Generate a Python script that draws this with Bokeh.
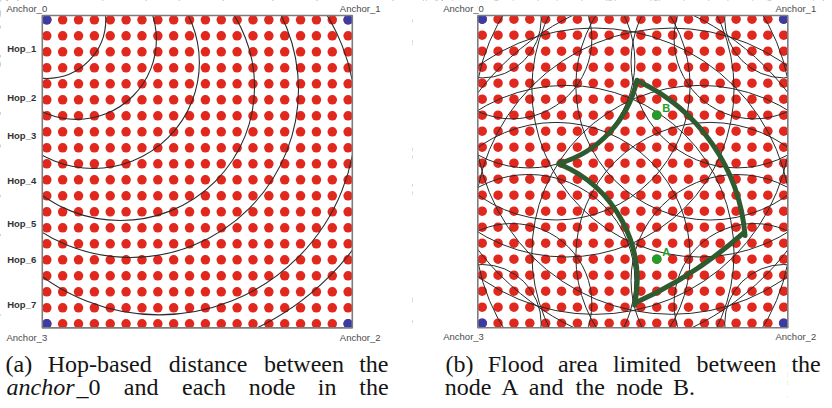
import math
from bokeh.plotting import figure
from bokeh.layouts import row
from bokeh.models import Range1d, Label
from bokeh.embed import file_html
from bokeh.resources import INLINE

# ---------------- data ----------------
node_cols = [0, 1, 2, 3, 4, 5, 6, 7, 8, 9, 10, 11, 12, 13, 14, 15, 16, 17, 18, 19]
node_rows = [0, 1, 2, 3, 4, 5, 6, 7, 8, 9, 10, 11, 12, 13, 14, 15, 16, 17, 18, 19]

anchor_names = ["Anchor_0", "Anchor_1", "Anchor_2", "Anchor_3"]
anchor_x = [0, 19, 19, 0]
anchor_y = [19, 19, 0, 0]

hop_names = ["Hop_1", "Hop_2", "Hop_3", "Hop_4", "Hop_5", "Hop_6", "Hop_7"]
hop_label_y = [17.19, 14.16, 11.77, 8.96, 6.27, 4.02, 1.21]

# hop boundary circles of Anchor_0 (grid units): centre x, centre y, radius
hop_arc_x = [0.00, 1.87, 2.94, 4.65, 5.28, 7.07, 5.92]
hop_arc_y = [19.02, 17.77, 16.33, 14.83, 14.64, 12.87, 14.76]
hop_arc_r = [3.72, 5.04, 6.68, 8.45, 10.59, 12.42, 16.83]

# flood area boundary (panel b): arcs centre, radius, start/end angle (deg)
flood_x = [4.80, -1.63, 1.82, 2.89]
flood_y = [4.54, 26.04, 2.67, 16.67]
flood_r = [11.80, 27.40, 7.94, 7.02]
flood_start = [4.6, -65.6, -11.3, -73.9]
flood_end = [64.9, -48.5, 67.6, -12.3]

special_names = ["A", "B"]
special_x = [11, 11]
special_y = [4, 13]

RED = "#e0281e"
BLUE = "#3b3ba6"
GREEN = "#1f9e2c"
DARKGREEN = "#2e5b30"
ARC = "#2a2a2a"
TXT = "#4a4a4a"
CAP = "#141414"

PW, PH = 412, 400          # size of each panel figure (screen px)


def panel(fig_left, x0px, y0px, sx, sy, frame_px):
    def px(x):
        return (x - x0px) / sx

    def py(y):
        return (y0px - y) / sy

    p = figure(width=PW, height=PH, min_border=0,
               x_range=Range1d(px(fig_left), px(fig_left + PW)),
               y_range=Range1d(py(PH), py(0)),
               x_axis_type=None, y_axis_type=None,
               output_backend="svg", toolbar_location=None)
    p.outline_line_color = None
    p.background_fill_color = "white"
    p.border_fill_color = "white"

    def label(text, x, y, size="9.5px", font="Liberation Sans", color=TXT,
              style="normal", align="left", baseline="middle",
              xdata=False, ydata=False):
        lx = x if xdata else px(x)
        ly = y if ydata else py(y)
        p.add_layout(Label(x=lx, y=ly, text=text, text_font=font,
                           text_font_size=size, text_color=color,
                           text_font_style=style, text_align=align,
                           text_baseline=baseline))

    fl, fr, ft, fb = frame_px

    def finish():
        # white mask outside the plotting square (acts as a clip)
        X0, X1 = px(fig_left - 5), px(fig_left + PW + 5)
        Y0, Y1 = py(PH + 5), py(-5)
        p.quad(left=[X0, px(fr), px(fl), px(fl)],
               right=[px(fl), X1, px(fr), px(fr)],
               bottom=[Y0, Y0, Y0, py(ft)],
               top=[Y1, Y1, py(fb), Y1],
               fill_color="white", line_color=None)
        p.quad(left=[px(fl)], right=[px(fr)], bottom=[py(fb)], top=[py(ft)],
               fill_color=None, line_color="#7d7d7d", line_width=1.6)

    def nodes():
        gx, gy = [], []
        for c in node_cols:
            for r in node_rows:
                gx.append(c)
                gy.append(r)
        p.scatter(gx, gy, size=9.5, color=RED, line_color=None)
        p.scatter(anchor_x, anchor_y, size=9.5, color=BLUE, line_color=None)

    return p, label, nodes, finish


CF = "Liberation Serif"
CS = "24px"
L1, L2 = 363.5, 386.8      # vertical centres of the two caption lines

# ---------------- panel (a) ----------------
pa, la, nodes_a, finish_a = panel(0, 46.3, 323.3, 15.86, 16.0, (41.8, 351.8, 15.0, 327.4))
nodes_a()
pa.circle(hop_arc_x, hop_arc_y, radius=hop_arc_r, fill_color=None,
          line_color=ARC, line_width=1.1)
finish_a()
for name, yy in zip(hop_names, hop_label_y):
    la(name, 35.7, yy, style="bold", color="#333333", align="right", ydata=True)
la(anchor_names[0], 6, 7.5)
la(anchor_names[1], 339.3, 7.5)
la(anchor_names[3], 6, 336.5)
la(anchor_names[2], 339.3, 336.5)

cap_a1 = [("(a)", 18.4), ("Hop-based", 99.2), ("distance", 207.6), ("between", 303.5), ("the", 373.3)]
for w, x in cap_a1:
    la(w, x, L1, size=CS, font=CF, color=CAP, align="center")
la("anchor", 6, L2, size=CS, font=CF, color=CAP, style="italic")
la("_0", 76, L2, size=CS, font=CF, color=CAP)
cap_a2 = [("and", 140.6), ("each", 203.5), ("node", 271.7), ("in", 326.6), ("the", 373.4)]
for w, x in cap_a2:
    la(w, x, L2, size=CS, font=CF, color=CAP, align="center")

# ---------------- panel (b) ----------------
pb, lb, nodes_b, finish_b = panel(412, 481.7, 322.7, 15.87, 16.0, (477.3, 787.3, 15.0, 327.3))
nodes_b()
# hop rings of all four anchors (Anchor_0 set mirrored to the other corners)
rx, ry, rr = [], [], []
for mx, my in [(False, False), (True, False), (True, True), (False, True)]:
    for cx, cy, r in zip(hop_arc_x, hop_arc_y, hop_arc_r):
        rx.append(19 - cx if mx else cx)
        ry.append(19 - cy if my else cy)
        rr.append(r)
pb.circle(rx, ry, radius=rr, fill_color=None, line_color=ARC, line_width=1.0)
pb.arc(flood_x, flood_y, radius=flood_r,
       start_angle=[math.radians(a) for a in flood_start],
       end_angle=[math.radians(a) for a in flood_end],
       line_color=DARKGREEN, line_width=5, line_cap="round")
pb.scatter(special_x, special_y, size=9.5, color=GREEN, line_color=None)
finish_b()
for name, sx_, sy_ in zip(special_names, special_x, special_y):
    lb(name, sx_ + 0.35, sy_ + 0.45, size="11px", color=GREEN, style="bold",
       xdata=True, ydata=True)
lb(anchor_names[0], 442.7, 7.5)
lb(anchor_names[1], 775, 7.5)
lb(anchor_names[3], 442.7, 336)
lb(anchor_names[2], 775, 336)

cap_b1 = [("(b)", 459), ("Flood", 515.2), ("area", 577.4), ("limited", 646.4), ("between", 736), ("the", 805.6)]
for w, x in cap_b1:
    lb(w, x, L1, size=CS, font=CF, color=CAP, align="center")
cap_b2 = [("node", 467.7), ("A", 509.3), ("and", 545.7), ("the", 589.7), ("node", 639), ("B.", 683.5)]
for w, x in cap_b2:
    lb(w, x, L2, size=CS, font=CF, color=CAP, align="center")

layout = row(pa, pb, spacing=0)
open("out.html", "w").write(file_html(layout, INLINE))
